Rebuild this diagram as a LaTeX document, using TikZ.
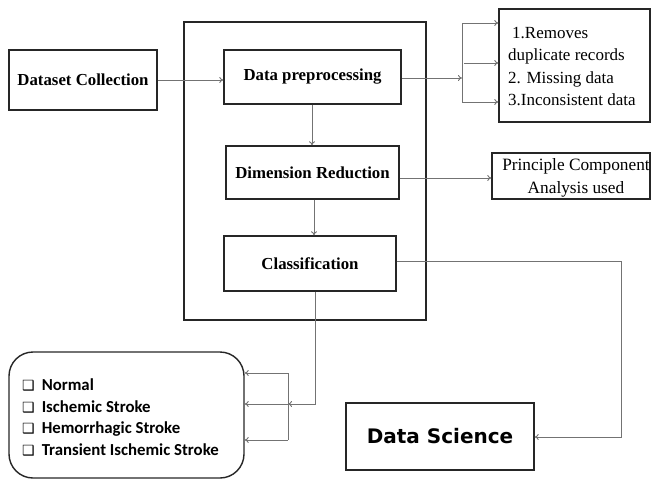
\documentclass[tikz,border=0pt]{standalone}
\usepackage{fontspec}
\setmainfont{Liberation Serif}
\newfontfamily\carl{Carlito}
\newfontfamily\dvs{DejaVu Sans}
\usetikzlibrary{arrows.meta}
\newcommand{\sqbox}{{\dvs\fontsize{14}{14}\selectfont ❑}\hspace{7pt}}
\tikzset{
  blk/.style={draw=black!85, line width=1.4pt, rectangle, inner sep=0pt},
  lbl/.style={font=\fontsize{16.8}{20}\selectfont\bfseries},
  conn/.style={draw=black!55, line width=0.9pt},
  arr/.style={conn, -{To[length=4pt,width=6pt]}},
}
\begin{document}
\begin{tikzpicture}[x=1pt,y=-1pt]
\useasboundingbox (0,0) rectangle (652,479);
% container
\node[blk, minimum width=242pt, minimum height=298pt] (cont) at (305,171) {};
\node[blk, lbl, minimum width=148pt, minimum height=60pt] (dc) at (83,80) {Dataset Collection};
\node[blk, lbl, minimum width=177pt, minimum height=54pt] (dp) at (312.5,77) {Data preprocessing};
\node[blk, lbl, minimum width=173pt, minimum height=53pt] (dr) at (312.5,172.5) {Dimension Reduction};
\node[blk, lbl, minimum width=172pt, minimum height=55pt] (cl) at (310,263.5) {Classification};
\node[blk, minimum width=151pt, minimum height=113pt] (rm) at (574.5,65.5) {};
\node[anchor=north west, align=left, inner sep=0pt, font=\fontsize{17}{22.4}\selectfont] (rmt) at (508,27)
  {\hspace*{4pt}1.Removes\\duplicate records\\2. Missing data\\3.Inconsistent data};
\node[blk, minimum width=158pt, minimum height=46pt] (pca) at (571,176) {};
\node[align=center, inner sep=0pt, font=\fontsize{17.3}{23}\selectfont] (pcat) at (576,178) {Principle Component\\Analysis used};
\node[blk, minimum width=188pt, minimum height=67pt, font=\dvs\fontsize{20}{24}\selectfont\bfseries] (ds) at (440,436.5) {Data Science};
\node[blk, rounded corners=24pt, minimum width=235pt, minimum height=126pt] (out) at (126.5,415) {};
\node[anchor=west, align=left, inner sep=0pt, font=\carl\fontsize{16.8}{21.7}\selectfont\bfseries] (lst) at (22,417.5)
  {\sqbox Normal\\
   \sqbox Ischemic Stroke\\
   \sqbox Hemorrhagic Stroke\\
   \sqbox Transient Ischemic Stroke};
% coordinates
\coordinate (b1) at (462,78);
\coordinate (bt) at (462,23);
\coordinate (bb) at (462,102);
\coordinate (bm) at (464,63);
\coordinate (c1) at (621,261);
\coordinate (c2) at (621,437);
\coordinate (d1) at (315,404);
\coordinate (d2) at (288,404);
\coordinate (dt) at (288,373);
\coordinate (db) at (288,440);
% connectors
\draw[arr] (dc.east |- 0,80) -- (dp.west |- 0,80);
\draw[arr] (dp.south -| 312,0) -- (dr.north -| 312,0);
\draw[arr] (dr.south -| 314,0) -- (cl.north -| 314,0);
\draw[arr] (dp.east |- b1) -- (b1);
\draw[conn] (bt) -- (bb);
\draw[arr] (bt) -- (bt -| rm.west);
\draw[arr] (bm) -- (bm -| rm.west);
\draw[arr] (bb) -- (bb -| rm.west);
\draw[arr] (dr.east |- 0,178) -- (pca.west |- 0,178);
\draw[arr] (cl.east |- c1) -- (c1) -- (c2) -- (ds.east |- c2);
\draw[arr] (cl.south -| d1) -- (d1) -- (d2);
\draw[arr] (d2) -- (d2 -| out.east);
\draw[conn] (dt) -- (db);
\draw[arr] (dt) -- (dt -| out.east);
\draw[arr] (db) -- (db -| out.east);
\end{tikzpicture}
\end{document}
